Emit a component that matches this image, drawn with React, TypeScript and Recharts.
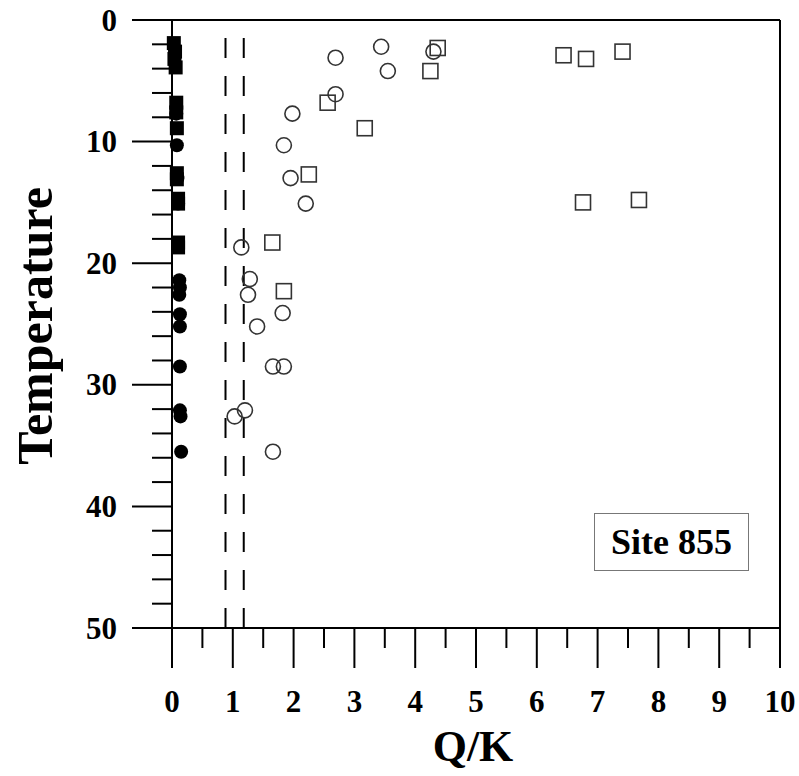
import React from "react";
import { ScatterChart, Scatter, XAxis, YAxis, ReferenceLine } from "recharts";

// Q/K (x) and temperature (y), one pair of arrays per marker type
const filledSquareQK = [0.03, 0.05, 0.04, 0.06, 0.07, 0.07, 0.08, 0.08, 0.08, 0.1, 0.1, 0.1, 0.1];
const filledSquareTemp = [1.9, 2.6, 3.2, 3.9, 6.8, 7.6, 8.9, 12.6, 13.1, 14.7, 15.1, 18.3, 18.7];

const filledCircleQK = [0.07, 0.08, 0.09, 0.1, 0.12, 0.13, 0.12, 0.13, 0.13, 0.13, 0.13, 0.14, 0.15];
const filledCircleTemp = [7.7, 10.3, 13.0, 15.1, 21.4, 22.0, 22.6, 24.2, 25.2, 28.5, 32.1, 32.6, 35.5];

const openSquareQK = [4.37, 4.25, 2.56, 3.17, 2.25, 1.65, 1.84, 6.44, 6.81, 7.41, 6.76, 7.68];
const openSquareTemp = [2.3, 4.2, 6.8, 8.9, 12.7, 18.3, 22.3, 2.9, 3.2, 2.6, 15.0, 14.8];

const openCircleQK = [3.44, 4.3, 2.69, 3.55, 2.69, 1.98, 1.84, 1.95, 2.2, 1.14, 1.28, 1.25, 1.82, 1.4, 1.66, 1.84, 1.2, 1.03, 1.66];
const openCircleTemp = [2.2, 2.6, 3.1, 4.2, 6.1, 7.7, 10.3, 13.0, 15.1, 18.7, 21.3, 22.6, 24.1, 25.2, 28.5, 28.5, 32.1, 32.6, 35.5];

const dashedQK = [0.88, 1.18];

const xTicks = [0, 0.5, 1, 1.5, 2, 2.5, 3, 3.5, 4, 4.5, 5, 5.5, 6, 6.5, 7, 7.5, 8, 8.5, 9, 9.5, 10];
const yTicks = [0, 2, 4, 6, 8, 10, 12, 14, 16, 18, 20, 22, 24, 26, 28, 30, 32, 34, 36, 38, 40, 42, 44, 46, 48, 50];

const siteLabel = "Site 855";

const zip = (xs: number[], ys: number[]) => xs.map((x, i) => ({ x, y: ys[i] }));

const FONT = '"Liberation Serif", "Times New Roman", serif';

const FilledSquare = (p: any) => (
  <rect x={p.cx - 7} y={p.cy - 7} width={14} height={14} fill="#000" />
);
const FilledCircle = (p: any) => <circle cx={p.cx} cy={p.cy} r={7} fill="#000" />;
const OpenSquare = (p: any) => (
  <rect x={p.cx - 7.5} y={p.cy - 7.5} width={15} height={15} fill="none" stroke="#333" strokeWidth={1.6} />
);
const OpenCircle = (p: any) => (
  <circle cx={p.cx} cy={p.cy} r={7.5} fill="none" stroke="#333" strokeWidth={1.6} />
);

function YTick({ x, y, payload }: any) {
  const major = payload.value % 10 === 0;
  return (
    <g>
      <line x1={x} y1={y} x2={x - (major ? 40 : 20)} y2={y} stroke="#000" strokeWidth={2} />
      {major && (
        <text x={x - 55} y={y} textAnchor="end" dominantBaseline="central" fontFamily={FONT} fontWeight="bold" fontSize={31} fill="#000">
          {payload.value}
        </text>
      )}
    </g>
  );
}

function XTick({ x, y, payload }: any) {
  const major = payload.value % 1 === 0;
  return (
    <g>
      <line x1={x} y1={y} x2={x} y2={y + (major ? 40 : 20)} stroke="#000" strokeWidth={2} />
      {major && (
        <text x={x} y={y + 73} textAnchor="middle" dominantBaseline="central" fontFamily={FONT} fontWeight="bold" fontSize={31} fill="#000">
          {payload.value}
        </text>
      )}
    </g>
  );
}

export default function App() {
  return (
    <div style={{ position: "absolute", left: 0, top: 0, width: 799, height: 776, background: "#fff" }}>
      <ScatterChart width={799} height={776} margin={{ top: 20, right: 19, bottom: 0, left: 0 }}>
        <XAxis
          type="number"
          dataKey="x"
          domain={[0, 10]}
          ticks={xTicks}
          interval={0}
          height={148}
          tickSize={0}
          tickMargin={0}
          tickLine={false}
          tick={<XTick />}
          axisLine={{ stroke: "#000", strokeWidth: 2 }}
        />
        <YAxis
          type="number"
          dataKey="y"
          domain={[0, 50]}
          reversed
          ticks={yTicks}
          interval={0}
          width={172}
          tickSize={0}
          tickMargin={0}
          tickLine={false}
          tick={<YTick />}
          axisLine={{ stroke: "#000", strokeWidth: 2 }}
        />
        <ReferenceLine y={0} stroke="#000" strokeWidth={2} />
        <ReferenceLine x={10} stroke="#000" strokeWidth={2} />
        {dashedQK.map((v) => (
          <ReferenceLine key={v} x={v} stroke="#000" strokeWidth={2} strokeDasharray="20 18" />
        ))}
        <Scatter data={zip(openSquareQK, openSquareTemp)} shape={OpenSquare} isAnimationActive={false} />
        <Scatter data={zip(openCircleQK, openCircleTemp)} shape={OpenCircle} isAnimationActive={false} />
        <Scatter data={zip(filledCircleQK, filledCircleTemp)} shape={FilledCircle} isAnimationActive={false} />
        <Scatter data={zip(filledSquareQK, filledSquareTemp)} shape={FilledSquare} isAnimationActive={false} />
      </ScatterChart>
      <div
        style={{
          position: "absolute",
          left: 35,
          top: 326,
          transform: "translate(-50%, -50%) rotate(-90deg)",
          whiteSpace: "nowrap",
          fontFamily: FONT,
          fontWeight: "bold",
          fontSize: 50,
          lineHeight: 1,
        }}
      >
        Temperature
      </div>
      <div
        style={{
          position: "absolute",
          left: 473,
          top: 747,
          transform: "translate(-50%, -50%)",
          whiteSpace: "nowrap",
          fontFamily: FONT,
          fontWeight: "bold",
          fontSize: 44,
          lineHeight: 1,
        }}
      >
        Q/K
      </div>
      <div
        style={{
          position: "absolute",
          left: 594,
          top: 513,
          width: 155,
          height: 58,
          boxSizing: "border-box",
          border: "1px solid #777",
          display: "flex",
          alignItems: "center",
          justifyContent: "center",
          fontFamily: FONT,
          fontWeight: "bold",
          fontSize: 36,
        }}
      >
        {siteLabel}
      </div>
    </div>
  );
}
